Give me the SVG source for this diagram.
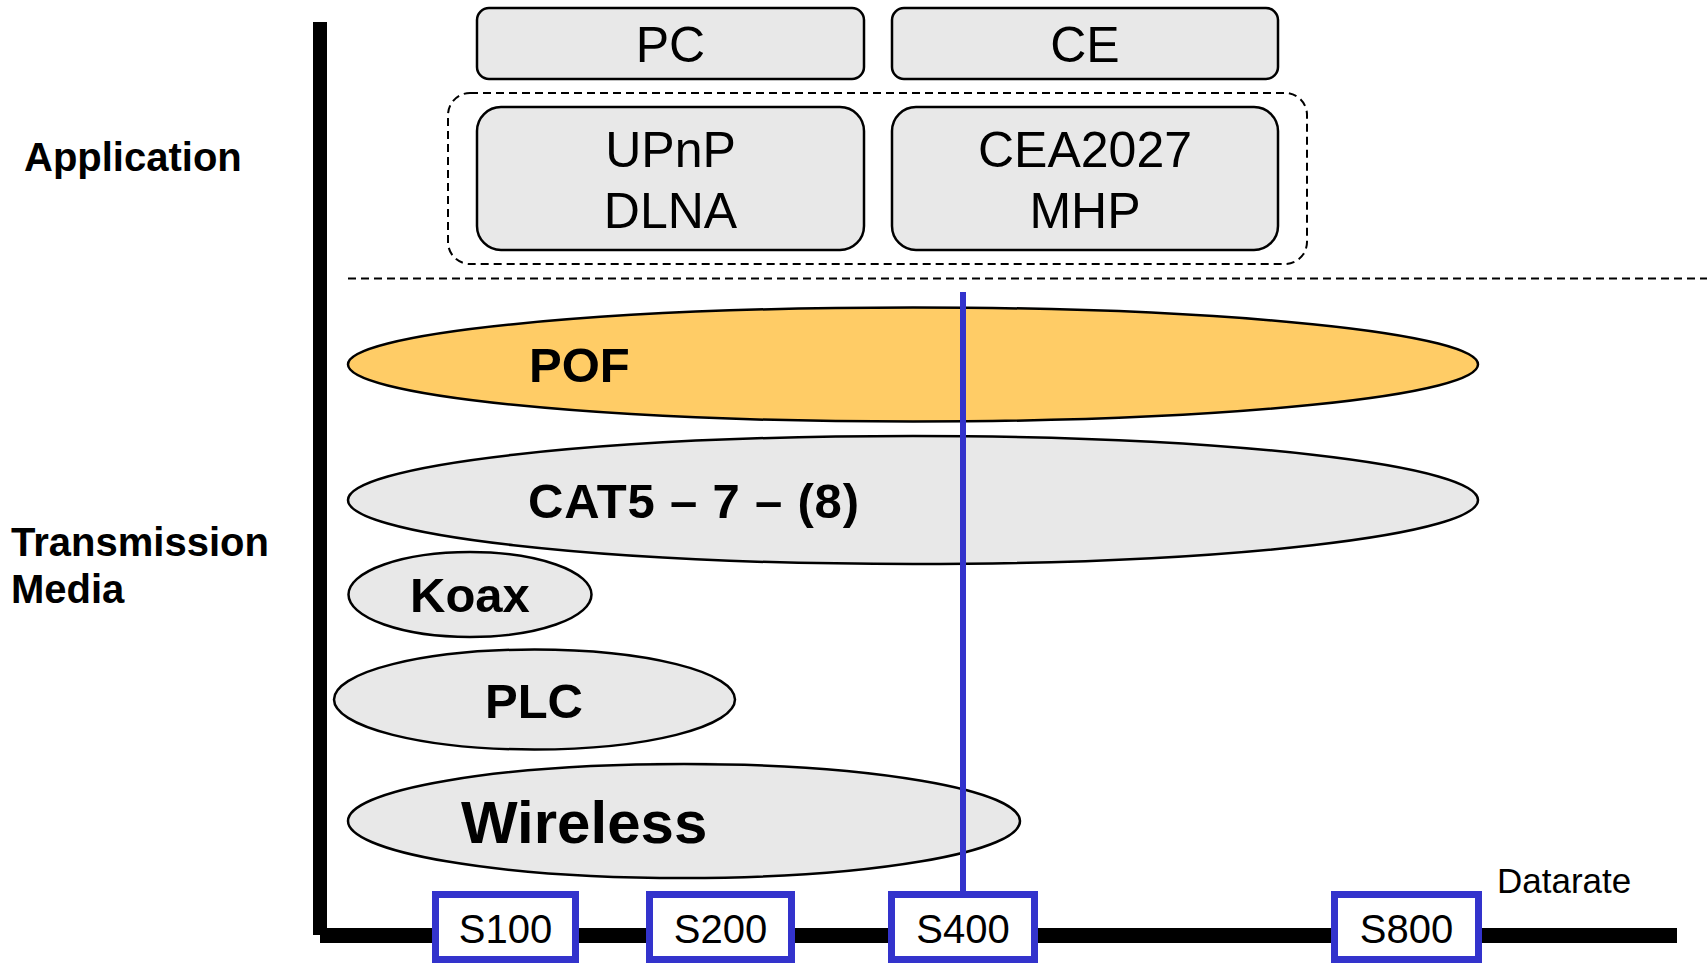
<svg xmlns="http://www.w3.org/2000/svg" width="1707" height="965" viewBox="0 0 1707 965">
<style>
.box{fill:#e8e8e8;stroke:#000;stroke-width:2.5}
.ell{fill:#e8e8e8;stroke:#000;stroke-width:2.5}
.pof{fill:#ffcc66;stroke:#000;stroke-width:2.5}
.sbox{fill:#fff;stroke:#3333cc;stroke-width:7}
.t{font-family:"Liberation Sans",Arial,sans-serif;fill:#000}
.reg{font-size:50px;text-anchor:middle}
.big{font-size:49px;font-weight:bold}
.lab{font-size:40px;font-weight:bold}
.st{font-size:40px;text-anchor:middle}
</style>
<rect width="1707" height="965" fill="#fff"/>
<g id="axes">
<line x1="320" y1="22" x2="320" y2="935" stroke="#000" stroke-width="14"/>
<line x1="320" y1="935.5" x2="1677" y2="935.5" stroke="#000" stroke-width="15"/>
<line x1="348" y1="278.5" x2="1707" y2="278.5" stroke="#000" stroke-width="2" stroke-dasharray="8,5"/>
</g>
<g id="labels">
<text class="t lab" x="24" y="171">Application</text>
<text class="t lab" x="11" y="556" font-size="40.3">Transmission</text>
<text class="t lab" x="11" y="603">Media</text>
<text class="t" x="1497" y="893" font-size="35">Datarate</text>
</g>
<g id="group-apps">
<rect x="448" y="93" width="859" height="171" rx="22" fill="none" stroke="#000" stroke-width="2" stroke-dasharray="8,5"/>
</g>
<g id="node-pc">
<rect class="box" x="477" y="8" width="387" height="71" rx="12"/>
<text class="t reg" x="670.5" y="62">PC</text>
</g>
<g id="node-ce">
<rect class="box" x="892" y="8" width="386" height="71" rx="12"/>
<text class="t reg" x="1085" y="62">CE</text>
</g>
<g id="node-upnp">
<rect class="box" x="477" y="107" width="387" height="143" rx="24"/>
<text class="t reg" x="670.5" y="167">UPnP</text>
<text class="t reg" x="670.5" y="228">DLNA</text>
</g>
<g id="node-cea">
<rect class="box" x="892" y="107" width="386" height="143" rx="24"/>
<text class="t reg" x="1085" y="167">CEA2027</text>
<text class="t reg" x="1085" y="228">MHP</text>
</g>
<g id="node-pof">
<ellipse class="pof" cx="913" cy="364.5" rx="565" ry="57"/>
<text class="t big" x="529" y="382">POF</text>
</g>
<g id="node-cat5">
<ellipse class="ell" cx="913" cy="500" rx="565" ry="64"/>
<text class="t big" x="528" y="518" font-size="50" textLength="331" lengthAdjust="spacing">CAT5 – 7 – (8)</text>
</g>
<g id="node-koax">
<ellipse class="ell" cx="470" cy="594.5" rx="121.5" ry="42.5"/>
<text class="t big" x="410" y="612">Koax</text>
</g>
<g id="node-plc">
<ellipse class="ell" cx="534.5" cy="699.5" rx="200.5" ry="50"/>
<text class="t big" x="485" y="718">PLC</text>
</g>
<g id="node-wireless">
<ellipse class="ell" cx="684" cy="821" rx="336" ry="57"/>
<text class="t" x="461" y="843" font-size="60" font-weight="bold">Wireless</text>
</g>
<g id="connectors">
<line x1="963" y1="292" x2="963" y2="892" stroke="#3333cc" stroke-width="6"/>
</g>
<g id="node-s100">
<rect class="sbox" x="435.5" y="894.5" width="140" height="65"/>
<text class="st t" x="505.5" y="943">S100</text>
</g>
<g id="node-s200">
<rect class="sbox" x="649.5" y="894.5" width="142" height="65"/>
<text class="st t" x="720.5" y="943">S200</text>
</g>
<g id="node-s400">
<rect class="sbox" x="891.5" y="894.5" width="143" height="65"/>
<text class="st t" x="963" y="943">S400</text>
</g>
<g id="node-s800">
<rect class="sbox" x="1334.5" y="894.5" width="144" height="65"/>
<text class="st t" x="1406.5" y="943">S800</text>
</g>
</svg>
